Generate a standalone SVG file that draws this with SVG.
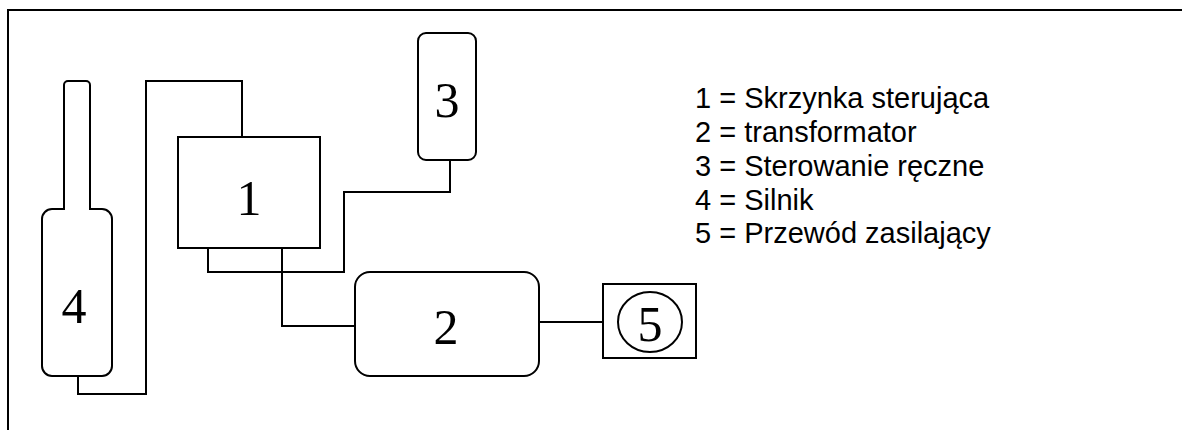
<svg xmlns="http://www.w3.org/2000/svg" width="1182" height="430" viewBox="0 0 1182 430">
<style>
.s{fill:#fff;stroke:#000;stroke-width:2}
.c{fill:none;stroke:#000;stroke-width:2}
.n{font-family:"Liberation Serif","Times New Roman",serif;font-size:50px;text-anchor:middle;fill:#000}
.l{font-family:"Liberation Sans",Arial,sans-serif;font-size:29px;fill:#000}
</style>
<rect width="1182" height="430" fill="#fff"/>
<path class="c" d="M8,430 V10 H1182"/>
<g id="connectors">
<path class="c" d="M78,376 V394 H146 V81 H242 V137"/>
<path class="c" d="M208,248 V272 H344 V192 H450 V160"/>
<path class="c" d="M282,248 V326 H355"/>
<path class="c" d="M539,322 H603"/>
</g>
<g id="node4">
<rect class="s" x="64" y="81" width="26" height="131" rx="4"/>
<rect class="s" x="42" y="209" width="70" height="167" rx="10"/>
<rect x="65" y="208" width="24" height="3" fill="#fff"/>
<text class="n" x="74" y="323">4</text>
</g>
<g id="node1">
<rect class="s" x="178" y="137" width="142" height="111"/>
<text class="n" x="249" y="215">1</text>
</g>
<g id="node3">
<rect class="s" x="418" y="33" width="58" height="127" rx="8"/>
<text class="n" x="447" y="117">3</text>
</g>
<g id="node2">
<rect class="s" x="355" y="272" width="184" height="104" rx="15"/>
<text class="n" x="446" y="344">2</text>
</g>
<g id="node5">
<rect class="s" x="603" y="284" width="93" height="74"/>
<ellipse class="s" cx="650" cy="322" rx="32" ry="30"/>
<text class="n" x="650" y="341">5</text>
</g>
<g id="legend">
<text class="l" x="695" y="108">1 = Skrzynka sterująca</text>
<text class="l" x="695" y="142">2 = transformator</text>
<text class="l" x="695" y="176">3 = Sterowanie ręczne</text>
<text class="l" x="695" y="210">4 = Silnik</text>
<text class="l" x="695" y="243">5 = Przewód zasilający</text>
</g>
</svg>
